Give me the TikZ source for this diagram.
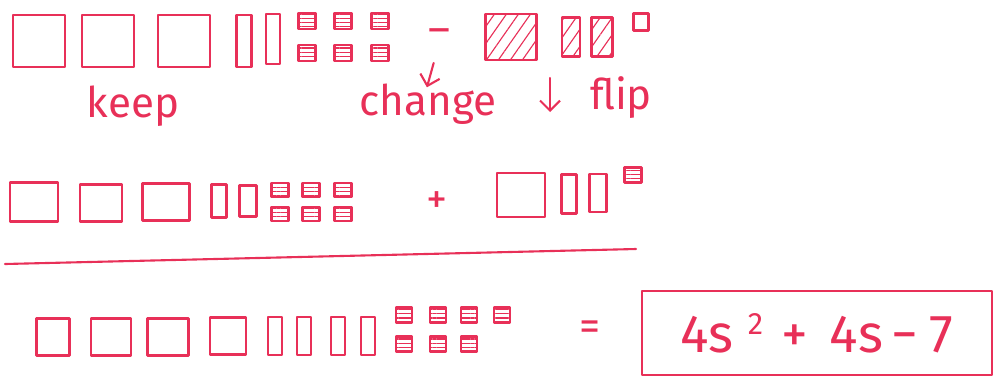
\documentclass[tikz,border=0pt]{standalone}
\usepackage{fontspec}
\usetikzlibrary{arrows.meta,patterns.meta,positioning}
\setmainfont{Fira Sans}
\definecolor{pen}{RGB}{232,48,88}

\begin{document}
\begin{tikzpicture}[x=0.025cm,y=-0.025cm,>={Straight Barb[length=2.5mm,width=5mm]},
 pencil/.style={draw=pen,line width=1.5pt,line cap=round,line join=round},
 tile/.style 2 args={pencil,inner sep=0pt,outer sep=0pt,minimum width=#1cm,minimum height=#2cm},
 shaded/.style={pattern={Lines[angle=0,distance=3pt,line width=0.8pt]},pattern color=pen},
 hatched/.style={pattern={Lines[angle=55,distance=7pt,line width=0.8pt]},pattern color=pen},
 hand/.style={text=pen,inner sep=0pt,font=\fontsize{30}{36}\selectfont}]
\useasboundingbox (0,0) rectangle (998,377);
% first row: what we start with
\node[tile={1.3}{1.3}] (a1) at (39,41) {};
\node[tile={1.3}{1.3}] (a2) at (108,41) {};
\node[tile={1.3}{1.3}] (a3) at (184,41) {};
\node[tile={0.375}{1.3}] (a4) at (244,41) {};
\node[tile={0.35}{1.25}] (a5) at (273,39) {};
\node[tile={0.425}{0.4},shaded] (a6) at (307,21) {};
\node[tile={0.425}{0.4},shaded] (a7) at (343,21) {};
\node[tile={0.425}{0.4},shaded] (a8) at (380,21) {};
\node[tile={0.425}{0.4},shaded] (a9) at (307,53) {};
\node[tile={0.425}{0.4},shaded] (a10) at (343,53) {};
\node[tile={0.425}{0.4},shaded] (a11) at (380,53) {};
\node[hand] (minus) at (439,36) {–};
\node[tile={1.275}{1.15},hatched] (b1) at (511,37) {};
\node[tile={0.45}{0.975},hatched] (b2) at (571,37) {};
\node[tile={0.525}{0.975},hatched] (b3) at (602,37) {};
\node[tile={0.375}{0.425}] (b4) at (641,22) {};
% labels
\node[hand] (keep) at (133,106) {keep};
\node[hand] (change) at (428,104) {change};
\node[hand] (flip) at (621,98) {flip};
\draw[pencil,->,shorten <=0.5cm,shorten >=-0.1cm] (minus.south) -- (change.north);
\coordinate (fliptop) at (550,78);
\coordinate (flipend) at (550,112);
\draw[pencil,->] (fliptop) -- (flipend);
% second row: rewritten as a sum
\node[tile={1.2}{0.975}] (c1) at (34,202) {};
\node[tile={1.05}{0.925}] (c2) at (101,203) {};
\node[tile={1.175}{0.925}] (c3) at (166,202) {};
\node[tile={0.375}{0.825}] (c4) at (219,201) {};
\node[tile={0.425}{0.775}] (c5) at (248,201) {};
\node[tile={0.425}{0.35},shaded] (c6) at (280,190) {};
\node[tile={0.425}{0.35},shaded] (c7) at (311,190) {};
\node[tile={0.425}{0.35},shaded] (c8) at (343,190) {};
\node[tile={0.425}{0.35},shaded] (c9) at (280,214) {};
\node[tile={0.425}{0.35},shaded] (c10) at (311,214) {};
\node[tile={0.425}{0.35},shaded] (c11) at (343,214) {};
\node[hand] (plus) at (437,203) {+};
\node[tile={1.2}{1.1}] (d1) at (521,195) {};
\node[tile={0.375}{0.975}] (d2) at (569,194) {};
\node[tile={0.425}{0.95}] (d3) at (598,193) {};
\node[tile={0.425}{0.375},shaded] (d4) at (633,175) {};
\coordinate (barL) at (5,264);
\coordinate (barR) at (636,249);
\draw[pencil] (barL) -- (barR);
% third row: the result
\node[tile={0.825}{0.925}] (e1) at (53,337) {};
\node[tile={1.0}{0.925}] (e2) at (111,337) {};
\node[tile={1.025}{0.925}] (e3) at (168,337) {};
\node[tile={0.9}{0.925}] (e4) at (228,336) {};
\node[tile={0.35}{0.95}] (e5) at (275,336) {};
\node[tile={0.35}{0.95}] (e6) at (304,336) {};
\node[tile={0.35}{0.95}] (e7) at (338,336) {};
\node[tile={0.35}{0.95}] (e8) at (368,336) {};
\node[tile={0.4}{0.375},shaded] (e9) at (404,315) {};
\node[tile={0.4}{0.375},shaded] (e10) at (438,315) {};
\node[tile={0.4}{0.375},shaded] (e11) at (469,315) {};
\node[tile={0.4}{0.375},shaded] (e12) at (502,315) {};
\node[tile={0.4}{0.375},shaded] (e13) at (404,344) {};
\node[tile={0.4}{0.375},shaded] (e14) at (438,344) {};
\node[tile={0.4}{0.375},shaded] (e15) at (469,344) {};
\node[hand] (equals) at (590,331) {=};
\node[pencil,text=pen,minimum width=8.75cm,minimum height=2.1cm,font=\fontsize{38}{44}\selectfont]
 (answer) at (817,333) {4s\hspace{0.35cm}\raisebox{0.45cm}{\fontsize{22}{26}\selectfont 2}\hspace{0.45cm}+\hspace{0.55cm}4s\hspace{0.2cm}−\hspace{0.3cm}7};
\end{tikzpicture}
\end{document}
